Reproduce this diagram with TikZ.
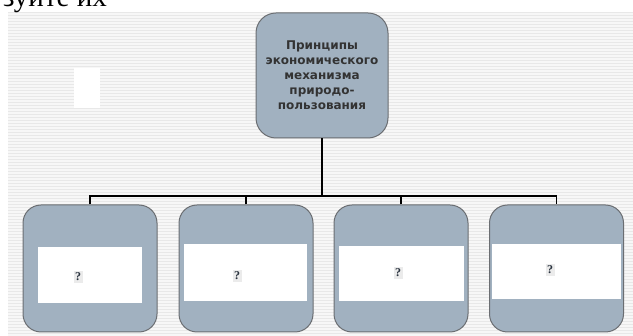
\documentclass[tikz,border=0pt]{standalone}
\usepackage{fontspec}
\setmainfont{Liberation Serif}
\newfontfamily\boxfont{DejaVu Sans}
\definecolor{boxfill}{HTML}{A1B1C0}
\definecolor{boxline}{HTML}{6B6E72}
\definecolor{stripe}{HTML}{E8E8E8}
\definecolor{qcol}{HTML}{2B3440}
\begin{document}
\begin{tikzpicture}[x=1pt,y=-1pt,
  topbox/.style={draw=boxline,line width=1pt,fill=boxfill,rounded corners=20pt,minimum width=132pt,minimum height=125pt,inner sep=0pt},
  leafbox/.style={draw=boxline,line width=1pt,fill=boxfill,rounded corners=18pt,minimum width=134pt,minimum height=127pt,inner sep=0pt},
  whitebox/.style={fill=white,inner sep=0pt},
  qmark/.style={font=\bfseries\fontsize{12}{14}\selectfont,text=qcol,fill=white!92!black,inner sep=1.5pt},
  conn/.style={line width=1.6pt,black}]
\useasboundingbox (0,0) rectangle (633,336);
\clip (0,0) rectangle (633,336);
% striped background
\fill[white] (0,0) rectangle (633,336);
\fill[white!97!black] (8,12) rectangle (633,336);
\foreach \yy in {13,16,...,336} {\draw[stripe,line width=1pt] (8,\yy) -- (633,\yy);}
% cut-off heading text
\node[anchor=base east,inner sep=0pt,font=\fontsize{29}{31}\selectfont] (head) at (107,7) {зуйте их};
% small white rectangle
\fill[white] (74,68) rectangle (100,108);
% top box
\node[topbox,text width=130pt,align=center,font=\boxfont\bfseries\fontsize{12}{15}\selectfont,text=black!80] (top) at (322,75.5)
  {Принципы\\экономического\\механизма\\природо-\\пользования};
% leaf boxes
\node[leafbox] (b1) at (90,268.5) {};
\node[leafbox] (b2) at (246,268.5) {};
\node[leafbox] (b3) at (401,268.5) {};
\node[leafbox] (b4) at (556.5,268.5) {};
% white inner panels
\node[whitebox,minimum width=104pt,minimum height=56pt] (w1) at (90,275) {};
\node[whitebox,minimum width=123pt,minimum height=57pt] (w2) at (245.5,272.5) {};
\node[whitebox,minimum width=125pt,minimum height=55pt] (w3) at (401.5,273.5) {};
\node[whitebox,minimum width=129pt,minimum height=55pt] (w4) at (556.5,271.5) {};
% question marks
\node[qmark] (q1) at (78,277) {?};
\node[qmark] (q2) at (237,276) {?};
\node[qmark] (q3) at (398,273) {?};
\node[qmark] (q4) at (550,270) {?};
% connectors
\coordinate (hub) at (322,196);
\draw[conn] (top.south) -- (hub);
\draw[conn] (b1.north) |- (hub) -| (b4.north);
\draw[conn] (b2.north) -- (b2.north |- hub);
\draw[conn] (b3.north) -- (b3.north |- hub);
\end{tikzpicture}
\end{document}
